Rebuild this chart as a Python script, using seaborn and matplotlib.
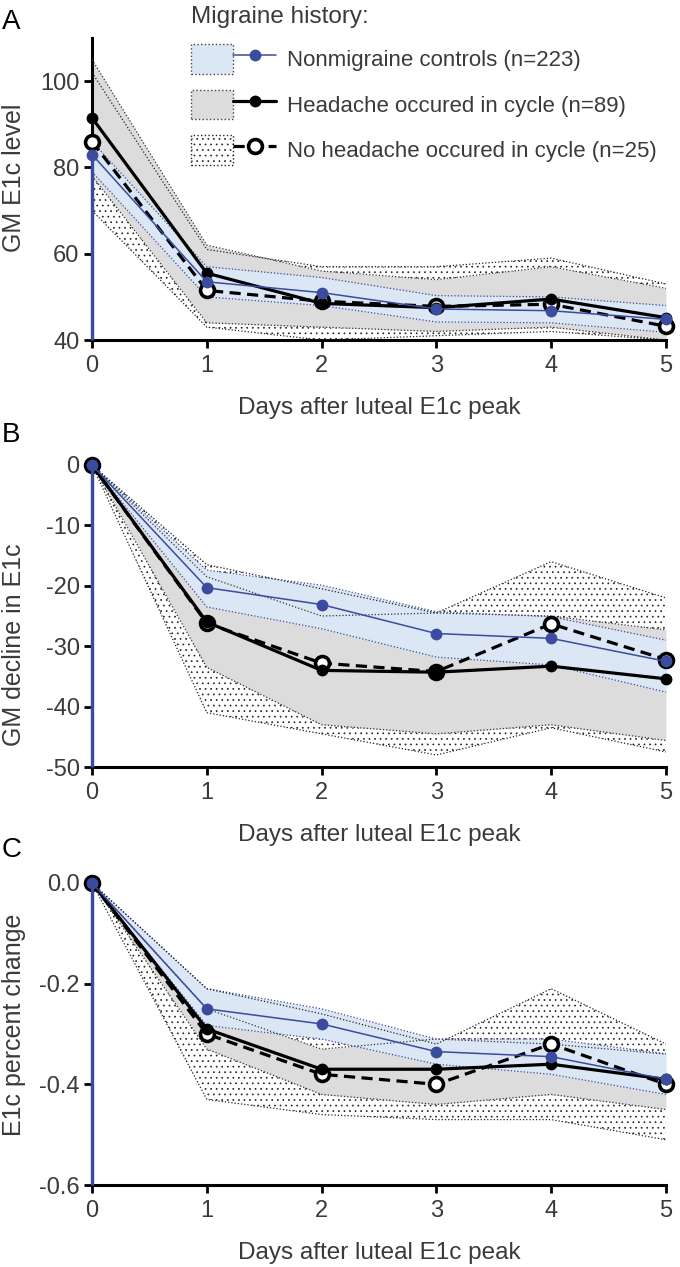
import pandas as pd
import matplotlib.pyplot as plt
import seaborn as sns
from matplotlib.patches import Patch
from matplotlib.lines import Line2D
from matplotlib.legend_handler import HandlerTuple

# days after peak
days = [0, 1, 2, 3, 4, 5]

# panel A: GM E1c level
a_ctrl = [83, 53.5, 51, 47.2, 46.8, 44.8]
a_ctrl_lo = [79, 50, 48, 44.2, 44, 41.8]
a_ctrl_hi = [86, 57, 54.5, 50.3, 50, 48]
a_head = [91.5, 55.5, 48.5, 47.5, 49.5, 45.2]
a_head_lo = [78, 44, 43, 42, 43, 40]
a_head_hi = [105, 62, 56, 54, 57, 52]
a_nohd = [86, 51.5, 49, 47.8, 48.3, 43.2]
a_nohd_lo = [70, 43, 40, 41, 42, 40]
a_nohd_hi = [102, 61, 57, 57, 59, 53]

# panel B: GM decline in E1c
b_ctrl = [0, -20.3, -23.1, -27.9, -28.7, -32.5]
b_ctrl_lo = [0, -23.5, -27.1, -31.8, -33.1, -37.6]
b_ctrl_hi = [0, -17.4, -19.9, -24.3, -25.1, -29]
b_head = [0, -26, -34, -34.3, -33.3, -35.4]
b_head_lo = [0, -33.5, -43, -44.5, -43, -45.6]
b_head_hi = [0, -18.5, -25, -24.5, -25, -27.3]
b_nohd = [0, -26.2, -32.8, -34.2, -26.3, -32.2]
b_nohd_lo = [0, -41, -44.5, -48, -43.5, -47.5]
b_nohd_hi = [0, -16.5, -20.5, -24.5, -16, -22]

# panel C: E1c percent change
c_ctrl = [0, -0.25, -0.28, -0.335, -0.345, -0.39]
c_ctrl_lo = [0, -0.283, -0.31, -0.36, -0.38, -0.42]
c_ctrl_hi = [0, -0.21, -0.25, -0.31, -0.31, -0.339]
c_head = [0, -0.29, -0.37, -0.37, -0.36, -0.39]
c_head_lo = [0, -0.33, -0.42, -0.44, -0.42, -0.45]
c_head_hi = [0, -0.25, -0.33, -0.31, -0.32, -0.34]
c_nohd = [0, -0.30, -0.38, -0.40, -0.32, -0.40]
c_nohd_lo = [0, -0.43, -0.46, -0.47, -0.47, -0.51]
c_nohd_hi = [0, -0.21, -0.26, -0.32, -0.21, -0.32]

sns.set_style("ticks")
plt.rcParams['font.family'] = ['Liberation Sans', 'DejaVu Sans']
plt.rcParams['hatch.linewidth'] = 0.5

txt = "#3a3a3a"
blue = "#3b4b9e"
blue_fill = "#dce7f5"
gray_fill = "#dcdcdc"
dot = (0, (1, 1.6))


def draw_panel(ax, ctrl, ctrl_lo, ctrl_hi, head, head_lo, head_hi,
               nohd, nohd_lo, nohd_hi, ylim, yticks, yticklabels, ylabel, ylab_y):
    df = pd.DataFrame({"day": days, "ctrl": ctrl, "head": head, "nohd": nohd})
    # bands: stipple underneath, then grey, then blue
    ax.fill_between(days, nohd_lo, nohd_hi, facecolor="none", edgecolor="#222222",
                    hatch="...", lw=0, zorder=1)
    ax.fill_between(days, head_lo, head_hi, color=gray_fill, lw=0, zorder=2)
    ax.fill_between(days, ctrl_lo, ctrl_hi, color=blue_fill, lw=0, zorder=3)
    for lo, hi, c in [(head_lo, head_hi, "#333333"), (ctrl_lo, ctrl_hi, blue),
                      (nohd_lo, nohd_hi, "#222222")]:
        ax.plot(days, lo, color=c, ls=dot, lw=0.9, zorder=4)
        ax.plot(days, hi, color=c, ls=dot, lw=0.9, zorder=4)
    # means
    sns.lineplot(data=df, x="day", y="nohd", ax=ax, color="black", lw=2.3,
                 linestyle=(0, (3.5, 2)), marker="o", markersize=10,
                 markerfacecolor="white", markeredgecolor="black",
                 markeredgewidth=2.6, clip_on=False, zorder=5)
    sns.lineplot(data=df, x="day", y="head", ax=ax, color="black", lw=2.3,
                 marker="o", markersize=8.5, markeredgewidth=0, clip_on=False, zorder=6)
    sns.lineplot(data=df, x="day", y="ctrl", ax=ax, color=blue, lw=1.1,
                 marker="o", markersize=8.5, markeredgewidth=0, clip_on=False, zorder=7)
    # blue vertical at day 0 over the spine
    ax.vlines(days[0], ylim[0], ctrl[0], color=blue, lw=2.4, zorder=8, clip_on=False)

    ax.set_xlim(0, 5)
    ax.set_ylim(*ylim)
    ax.set_xticks(days)
    ax.set_yticks(yticks)
    ax.set_yticklabels(yticklabels)
    ax.set_xlabel("Days after luteal E1c peak", fontsize=17.5, color=txt, labelpad=14)
    ax.set_ylabel(ylabel, fontsize=18, color=txt)
    ax.yaxis.set_label_coords(-0.115, ylab_y)
    ax.tick_params(axis="both", labelsize=17, labelcolor=txt, width=2, length=6,
                   color="black", direction="out")
    ax.tick_params(axis="x", pad=5)
    ax.tick_params(axis="y", pad=3)
    for s in ["left", "bottom"]:
        ax.spines[s].set_linewidth(2.2)
        ax.spines[s].set_color("black")
    sns.despine(ax=ax)


fig = plt.figure(figsize=(6.8, 12.67), dpi=100)
axA = fig.add_axes([0.1353, 0.7316, 0.844, 0.2384])
axB = fig.add_axes([0.1353, 0.3946, 0.844, 0.2384])
axC = fig.add_axes([0.1353, 0.0647, 0.844, 0.2384])

draw_panel(axA, a_ctrl, a_ctrl_lo, a_ctrl_hi, a_head, a_head_lo, a_head_hi,
           a_nohd, a_nohd_lo, a_nohd_hi, (40, 110), [40, 60, 80, 100],
           ["40", "60", "80", "100"], "GM E1c level", 0.536)
draw_panel(axB, b_ctrl, b_ctrl_lo, b_ctrl_hi, b_head, b_head_lo, b_head_hi,
           b_nohd, b_nohd_lo, b_nohd_hi, (-50, 0), [-50, -40, -30, -20, -10, 0],
           ["-50", "-40", "-30", "-20", "-10", "0"], "GM decline in E1c", 0.404)
draw_panel(axC, c_ctrl, c_ctrl_lo, c_ctrl_hi, c_head, c_head_lo, c_head_hi,
           c_nohd, c_nohd_lo, c_nohd_hi, (-0.6, 0), [-0.6, -0.4, -0.2, 0.0],
           ["-0.6", "-0.4", "-0.2", "0.0"], "E1c percent change", 0.53)

# panel letters
for lab, y in [("A", 1 - 22 / 1267), ("B", 1 - 435 / 1267), ("C", 1 - 850 / 1267)]:
    fig.text(0.003, y, lab, fontsize=20, color="black", va="center")

# legend
h_ctrl = (Patch(facecolor=blue_fill, edgecolor="#444444", linestyle=":", lw=1),
          Line2D([], [], color=blue, lw=1.1, marker="o", markersize=8.5, markeredgewidth=0))
h_head = (Patch(facecolor=gray_fill, edgecolor="#444444", linestyle=":", lw=1),
          Line2D([], [], color="black", lw=2.3, marker="o", markersize=8.5, markeredgewidth=0))
h_nohd = (Patch(facecolor="white", edgecolor="#222222", hatch="...", linestyle=":", lw=1),
          Line2D([], [], color="black", lw=2.3, ls=(0, (3.5, 2)), marker="o", markersize=10,
                 markerfacecolor="white", markeredgecolor="black", markeredgewidth=2.6))
leg = fig.legend([h_ctrl, h_head, h_nohd],
                 ["Nonmigraine controls (n=223)", "Headache occured in cycle (n=89)",
                  "No headache occured in cycle (n=25)"],
                 handler_map={tuple: HandlerTuple(ndivide=None, pad=0)},
                 loc="upper left", bbox_to_anchor=(0.277, 0.997), frameon=False,
                 title="Migraine history:", alignment="left", fontsize=16,
                 title_fontsize=17.5, handlelength=3.85, handleheight=1.67,
                 labelspacing=0.72, handletextpad=0.5, borderpad=0.1, borderaxespad=0)
for t in leg.get_texts():
    t.set_color(txt)
leg.get_title().set_color(txt)

plt.savefig("out.png", dpi=100)
